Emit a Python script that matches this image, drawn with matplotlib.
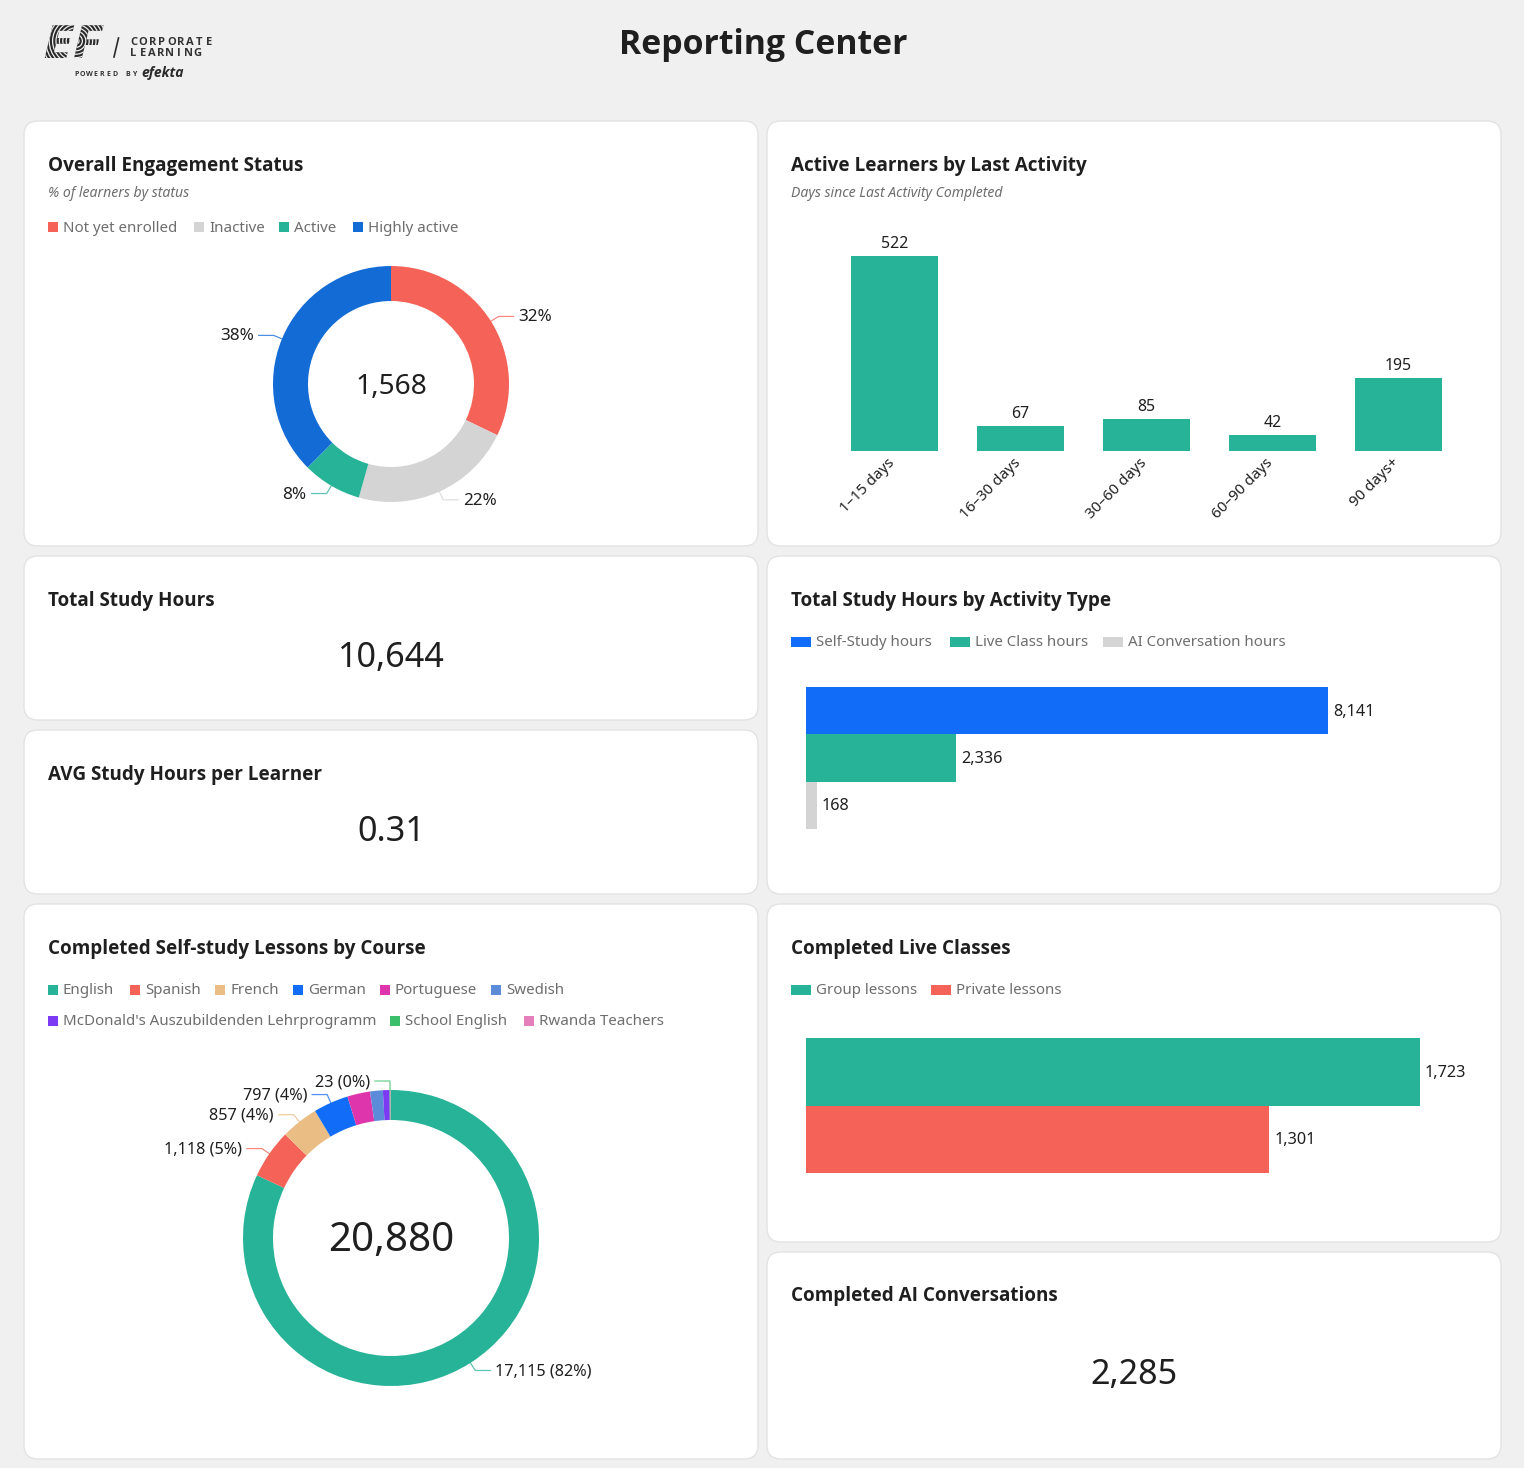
import numpy as np
import matplotlib
matplotlib.use("Agg")
import matplotlib.pyplot as plt
from matplotlib import font_manager
from matplotlib.patches import FancyBboxPatch, Rectangle, PathPatch, Circle
from matplotlib.textpath import TextPath
from matplotlib.font_manager import FontProperties
from matplotlib.transforms import Affine2D, ScaledTranslation

W, H = 1524, 1468

# data
engagement_labels = ["Not yet enrolled", "Inactive", "Active", "Highly active"]
engagement_values = [504, 349, 127, 588]
engagement_pct = ["32%", "22%", "8%", "38%"]
engagement_total = "1,568"

activity_days = ["1–15 days", "16–30 days", "30–60 days", "60–90 days", "90 days+"]
activity_learners = [522, 67, 85, 42, 195]

hours_labels = ["Self-Study hours", "Live Class hours", "AI Conversation hours"]
hours_values = [8141, 2336, 168]

course_labels = ["English", "Spanish", "French", "German", "Portuguese", "Swedish",
                 "McDonald's Auszubildenden Lehrprogramm", "School English", "Rwanda Teachers"]
course_values = [17115, 1118, 857, 797, 520, 290, 150, 23, 10]
course_text = ["17,115 (82%)", "1,118 (5%)", "857 (4%)", "797 (4%)", None, None, None, "23 (0%)", None]
course_total = "20,880"

live_labels = ["Group lessons", "Private lessons"]
live_values = [1723, 1301]

RED = "#F56257"
GRAY = "#D4D4D4"
GREEN = "#27B397"
BLUE = "#136BD6"
BRIGHT_BLUE = "#116DF8"
DARK = "#1F1F1F"
MUTED = "#6E6E6E"
course_colors = [GREEN, RED, "#EABD84", BRIGHT_BLUE, "#DE34AC", "#5B8BD9", "#7C3AF2", "#3CBF6B", "#E57FBB"]

plt.rcParams["font.family"] = ["Noto Sans", "DejaVu Sans"]

# first family that really ships a bold face
installed_bold = {f.name for f in font_manager.fontManager.ttflist if f.weight in (700, "bold")}
BOLD_FAMILY = next(n for n in ["Noto Sans", "Open Sans", "Lato", "Roboto", "Inter", "Liberation Sans", "DejaVu Sans"]
                   if n in installed_bold)

fig = plt.figure(figsize=(W / 100, H / 100), dpi=100, facecolor="#F0F0F0")
bg = fig.add_axes([0, 0, 1, 1])
bg.set_xlim(0, W)
bg.set_ylim(H, 0)
bg.axis("off")


def px_axes(x0, y0, x1, y1):
    ax = fig.add_axes([x0 / W, 1 - y1 / H, (x1 - x0) / W, (y1 - y0) / H])
    ax.patch.set_alpha(0)
    return ax


def card(x0, y0, x1, y1):
    bg.add_patch(FancyBboxPatch((x0 + 14, y0 + 14), x1 - x0 - 28, y1 - y0 - 28,
                                boxstyle="round,pad=14,rounding_size=14",
                                fc="white", ec="#E3E3E3", lw=1))


def title(x, y, s):
    bg.text(x, y + 2, s, fontsize=13.6, fontweight="bold", family=BOLD_FAMILY, color=DARK, va="center", ha="left")


def kpi(x, y, s, size=24.6):
    bg.text(x, y + 3, s, fontsize=size, color=DARK, ha="center", va="center")


def spaced(x, y, s, step, size):
    # letter-spaced logo text
    for i, ch in enumerate(s):
        bg.text(x + (i + 0.5) * step, y, ch, fontsize=size, fontweight="bold", family=BOLD_FAMILY,
                color="#333333", va="center", ha="center")


def legend(items, colors, xs, y, w=10, h=10):
    for label, color, x in zip(items, colors, xs):
        bg.add_patch(Rectangle((x, y - h / 2), w, h, fc=color, ec="none"))
        bg.text(x + w + 5, y + 1.2, label, fontsize=10.85, color=MUTED, va="center", ha="left")


def donut(cx, cy, outer, inner, values, colors, labels, total, total_size, label_size=11.7):
    ax = px_axes(cx - outer, cy - outer, cx + outer, cy + outer)
    ax.pie(values, colors=colors, startangle=90, counterclock=False, radius=1,
           wedgeprops=dict(width=(outer - inner) / outer, lw=0))
    ax.set_xlim(-1, 1)
    ax.set_ylim(-1, 1)
    ax.set_aspect("auto")
    bg.text(cx, cy + 2.5, total, fontsize=total_size, color=DARK, ha="center", va="center", zorder=5)
    # leader lines follow the slice mid angles
    fractions = np.cumsum(values) / np.sum(values)
    mids = fractions - np.array(values) / np.sum(values) / 2
    for mid, color, label in zip(mids, colors, labels):
        if label is None:
            continue
        a = 2 * np.pi * mid
        px, py = cx + outer * np.sin(a), cy - outer * np.cos(a)
        ex, ey = cx + (outer + 9) * np.sin(a), cy - (outer + 9) * np.cos(a)
        side = 1 if np.sin(a) > 0 else -1
        hx = ex + side * 15
        bg.plot([px, ex, hx], [py, ey, ey], color=color, lw=0.9, alpha=0.75, zorder=1)
        bg.text(hx + side * 5, ey + 1, label, fontsize=label_size, color=DARK, va="center",
                ha="left" if side > 0 else "right")


def hbars(x0, y0, y1, px_per_unit, right, values, colors):
    ax = px_axes(x0, y0, right, y1)
    pos = np.arange(len(values))
    ax.barh(pos, values, height=1, color=colors)
    ax.set_xlim(0, (right - x0) / px_per_unit)
    ax.set_ylim(len(values) - 0.5, -0.5)
    ax.axis("off")
    for p, v in zip(pos, values):
        ax.annotate(f"{v:,}", (v, p), xytext=(3.6, -0.8), textcoords="offset points",
                    fontsize=11.7, color=DARK, va="center", ha="left")


# cards
card(24, 121, 758, 546)
card(767, 121, 1501, 546)
card(24, 556, 758, 720)
card(24, 730, 758, 894)
card(767, 556, 1501, 894)
card(24, 904, 758, 1459)
card(767, 904, 1501, 1242)
card(767, 1252, 1501, 1459)

# header
bg.text(763, 45, "Reporting Center", fontsize=24.4, fontweight="bold", family=BOLD_FAMILY, color=DARK,
        ha="center", va="center")

# logo, stripes cut through the letters
fp = FontProperties(family=BOLD_FAMILY, weight="bold")
ef_path = TextPath((0, 0), "EF", size=46, prop=fp)
ef_tf = Affine2D().skew_deg(12, 0).scale(1.14, -1.0).translate(40, 58) + bg.transData
ef_patch = PathPatch(ef_path, fc="#2A2A2A", ec="none", transform=ef_tf)
bg.add_patch(ef_patch)
for r in np.arange(3, 44, 3.4):
    ring = Circle((76, 41), r, fc="none", ec="#F0F0F0", lw=0.9)
    bg.add_patch(ring)
    ring.set_clip_path(ef_patch)
bg.plot([114, 118.5], [57, 38], color="#2A2A2A", lw=1.2)
spaced(129, 42.5, "CORPORATE", 9.4, 8)
spaced(129, 54, "LEARNING", 9.1, 8)
spaced(73, 74.5, "POWERED BY", 6.4, 5)
bg.text(141, 73.5, "efekta", fontsize=10, fontweight="bold", family=BOLD_FAMILY, style="italic",
        color="#2A2A2A", va="center", ha="left")

# overall engagement
title(48, 164, "Overall Engagement Status")
bg.text(48, 193.5, "% of learners by status", fontsize=10.1, style="italic", color=MUTED, va="center")
legend(engagement_labels, [RED, GRAY, GREEN, BLUE], [48, 194, 279, 353], 227)
donut(391, 384, 118, 83, engagement_values, [RED, GRAY, GREEN, BLUE], engagement_pct, engagement_total, 20.2,
      label_size=12.3)

# last activity
title(791, 164, "Active Learners by Last Activity")
bg.text(791, 193.5, "Days since Last Activity Completed", fontsize=10.1, style="italic", color=MUTED, va="center")
ax = px_axes(831.5, 256, 1461.5, 451)
ax.bar(activity_days, activity_learners, width=0.69, color=GREEN)
ax.set_xlim(-0.5, 4.5)
ax.set_ylim(0, max(activity_learners))
for side in ax.spines.values():
    side.set_visible(False)
ax.yaxis.set_visible(False)
ax.tick_params(axis="x", length=0, pad=3)
shift = ScaledTranslation(-7 / 100, 0, fig.dpi_scale_trans)
for lab in ax.get_xticklabels():
    lab.set(rotation=45, ha="right", va="top", rotation_mode="anchor", fontsize=10.9, color=DARK)
    lab.set_transform(lab.get_transform() + shift)
for i, v in enumerate(activity_learners):
    ax.annotate(str(v), (i, v), xytext=(0, 3), textcoords="offset points", clip_on=False,
                fontsize=11.4, color=DARK, ha="center", va="bottom")

# kpi cards
title(48, 599, "Total Study Hours")
kpi(391, 655, "10,644")
title(48, 773, "AVG Study Hours per Learner")
kpi(391, 829, "0.31")

# study hours by type
title(791, 599, "Total Study Hours by Activity Type")
legend(hours_labels, [BRIGHT_BLUE, GREEN, GRAY], [791, 950, 1103], 641.5, w=20)
hbars(806, 687, 829, 522 / 8141, 1480, hours_values, [BRIGHT_BLUE, GREEN, GRAY])

# self-study lessons
title(48, 947, "Completed Self-study Lessons by Course")
legend(course_labels[:6], course_colors[:6], [48, 130, 215, 293, 380, 491], 989.5)
legend(course_labels[6:], course_colors[6:], [48, 390, 524], 1020.5)
donut(391, 1238, 148, 118, course_values, course_colors, course_text, course_total, 29)

# live classes
title(791, 947, "Completed Live Classes")
legend(live_labels, [GREEN, RED], [791, 931], 989.5, w=20)
hbars(806, 1038, 1173, 613.5 / 1723, 1480, live_values, [GREEN, RED])

# ai conversations
title(791, 1294, "Completed AI Conversations")
kpi(1134, 1372, "2,285")

fig.savefig("out.png", dpi=100, facecolor=fig.get_facecolor())
